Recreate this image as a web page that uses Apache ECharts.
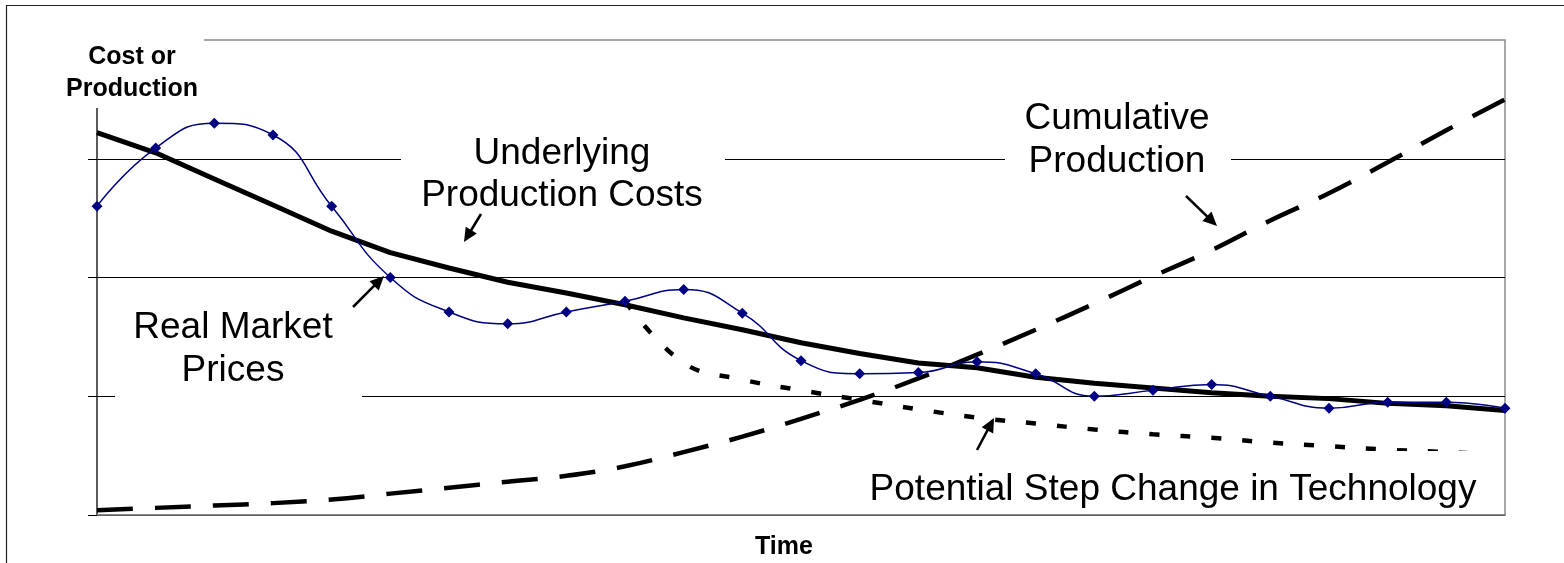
<!DOCTYPE html>
<html>
<head>
<meta charset="utf-8">
<title>Cost or Production over Time</title>
<script src="https://cdn.jsdelivr.net/npm/echarts@6/dist/echarts.min.js"></script>
<style>
  html, body { margin: 0; padding: 0; background: #fff; }
  #chart { width: 1564px; height: 563px; }
</style>
</head>
<body>
<div id="chart"></div>
<script>
// Time periods along the x axis (labels are not shown)
const periods = ['P1','P2','P3','P4','P5','P6','P7','P8','P9','P10','P11','P12','P13',
                 'P14','P15','P16','P17','P18','P19','P20','P21','P22','P23','P24','P25'];

// Observed market prices, fluctuating around the cost curve
const realMarketPrices = [2.60, 3.09, 3.30, 3.20, 2.60, 2.00, 1.71, 1.61, 1.71, 1.80, 1.90, 1.70, 1.30,
                          1.19, 1.20, 1.29, 1.19, 1.00, 1.05, 1.10, 1.00, 0.90, 0.95, 0.95, 0.90];

// Long-run cost of production
const underlyingCosts = [3.22, 3.05, 2.83, 2.61, 2.39, 2.21, 2.08, 1.96, 1.87, 1.77, 1.66, 1.56, 1.45,
                         1.36, 1.28, 1.24, 1.16, 1.11, 1.07, 1.03, 1.00, 0.98, 0.94, 0.92, 0.88];

// Cumulative output
const cumulativeProduction = [0.04, 0.06, 0.08, 0.10, 0.13, 0.18, 0.23, 0.28, 0.33, 0.41, 0.53, 0.66, 0.81,
                              0.97, 1.15, 1.35, 1.56, 1.78, 2.01, 2.23, 2.48, 2.71, 2.97, 3.24, 3.50];

// Alternative cost path after a technology step change
const potentialStepChange = [null, null, null, null, null, null, null, null, null, 1.80, 1.28, 1.14, 1.05,
                             0.97, 0.89, 0.82, 0.77, 0.72, 0.68, 0.65, 0.61, 0.58, 0.55, 0.53, 0.50];

// Value axis ticks
const yTicks = { min: 0, max: 4, interval: 1 };

const FONT = '"Liberation Sans", Arial, "DejaVu Sans", sans-serif';

// Annotation helpers
function box(x, y, w, h) {
  return { type: 'rect', z: 10, silent: true, shape: { x: x, y: y, width: w, height: h },
           style: { fill: '#fff', stroke: null } };
}
function label(text, x, y, size, weight, lineHeight) {
  return {
    type: 'text', z: 11, silent: true, x: x, y: y,
    style: {
      text: text, fill: '#000',
      font: (weight || 'normal') + ' ' + size + 'px ' + FONT,
      lineHeight: lineHeight,
      textAlign: 'center', textVerticalAlign: 'middle',
      align: 'center', verticalAlign: 'middle'
    }
  };
}
function arrow(tx, ty, hx, hy) {
  const dx = hx - tx, dy = hy - ty;
  const len = Math.sqrt(dx * dx + dy * dy);
  const ux = dx / len, uy = dy / len;
  const headLen = 14, halfW = 6.5;
  const bx = hx - ux * headLen, by = hy - uy * headLen;
  return [
    { type: 'line', z: 12, silent: true,
      shape: { x1: tx, y1: ty, x2: bx + ux * 2, y2: by + uy * 2 },
      style: { stroke: '#000', lineWidth: 2.5 } },
    { type: 'polygon', z: 12, silent: true,
      shape: { points: [[hx, hy], [bx - uy * halfW, by + ux * halfW], [bx + uy * halfW, by - ux * halfW]] },
      style: { fill: '#000' } }
  ];
}

const chart = echarts.init(document.getElementById('chart'), null, { renderer: 'canvas' });

chart.setOption({
  animation: false,
  backgroundColor: '#fff',
  grid: {
    left: 97, right: 59, top: 40, bottom: 48,
    show: true, borderColor: '#8a8a8a', borderWidth: 1.5, backgroundColor: 'transparent'
  },
  xAxis: {
    type: 'category',
    data: periods,
    boundaryGap: false,
    axisLine: { show: true, lineStyle: { color: '#808080', width: 1.5 } },
    axisTick: { show: false },
    axisLabel: { show: false },
    splitLine: { show: false }
  },
  yAxis: {
    type: 'value',
    min: yTicks.min, max: yTicks.max, interval: yTicks.interval,
    axisLine: { show: true, lineStyle: { color: '#404040', width: 1.5 } },
    axisTick: { show: true, inside: false, length: 9, lineStyle: { color: '#000', width: 1 } },
    axisLabel: { show: false },
    splitLine: { show: true, showMaxLine: false, lineStyle: { color: '#000', width: 1 } }
  },
  series: [
    {
      name: 'Cumulative Production',
      type: 'line',
      data: cumulativeProduction,
      smooth: 0.4,
      symbol: 'none',
      z: 3,
      lineStyle: { color: '#000', width: 4.5, type: [36, 22] }
    },
    {
      name: 'Potential Step Change in Technology',
      type: 'line',
      data: potentialStepChange,
      smooth: 0.4,
      symbol: 'none',
      z: 3,
      lineStyle: { color: '#000', width: 4.5, type: [10, 21] }
    },
    {
      name: 'Underlying Production Costs',
      type: 'line',
      data: underlyingCosts,
      smooth: false,
      symbol: 'none',
      z: 4,
      lineStyle: { color: '#000', width: 5 }
    },
    {
      name: 'Real Market Prices',
      type: 'line',
      data: realMarketPrices,
      smooth: 0.5,
      symbol: 'diamond',
      symbolSize: 11,
      showAllSymbol: true,
      z: 5,
      itemStyle: { color: '#000080' },
      lineStyle: { color: '#000080', width: 1.5 }
    }
  ],
  graphic: {
    elements: [].concat(
      // outer frame
      [{ type: 'rect', z: 1, silent: true, shape: { x: 6.5, y: 5.5, width: 1600, height: 600 },
         style: { fill: null, stroke: '#222', lineWidth: 1.2 } }],
      // axis titles
      [box(10, 10, 194, 98), label('Cost or\nProduction', 132, 73.5, 25, 'bold', 32)],
      [box(740, 525, 90, 36), label('Time', 784, 547, 25, 'bold', 30)],
      // series captions
      [box(401, 124, 324, 98), label('Underlying\nProduction Costs', 562, 175, 37, 'normal', 42)],
      [box(1005, 94, 226, 90), label('Cumulative\nProduction', 1117, 140.5, 37, 'normal', 43)],
      [box(115, 300, 247, 100), label('Real Market\nPrices', 233, 349.5, 37, 'normal', 43)],
      [box(849, 451, 654, 62), label('Potential Step Change in Technology', 1173, 490, 37, 'normal', 40)],
      // pointers
      arrow(481, 214, 464, 242),
      arrow(353, 307, 384, 276),
      arrow(1186, 196, 1217, 226),
      arrow(977, 450, 994, 418)
    )
  }
});
</script>
</body>
</html>
